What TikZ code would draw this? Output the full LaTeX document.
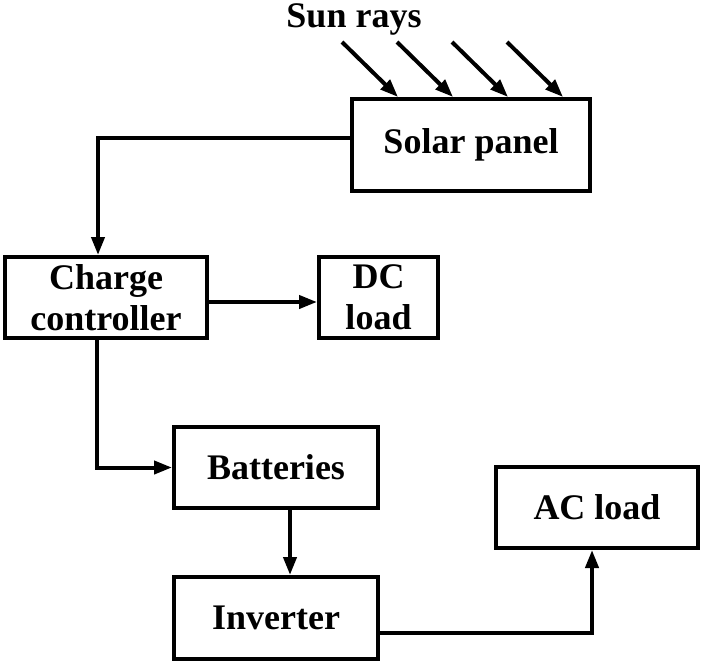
\documentclass[tikz,border=0pt]{standalone}
\usepackage{fontspec}
\setmainfont{Liberation Serif}
\usepackage{tikz}
\usetikzlibrary{arrows.meta,calc}

\begin{document}
\begin{tikzpicture}[->,>={Triangle[length=9pt,width=6.5pt]},line width=2pt,x=0.5pt,y=-0.5pt,
                    font=\bfseries\fontsize{18}{20.5}\selectfont]
  \tikzstyle{block}=[rectangle,draw=black,fill=white,align=center,inner sep=0pt,
                     minimum width=101pt,minimum height=40.5pt]
  \useasboundingbox (0,0) rectangle (704,663);

  \node (sun)                                    at (354,19)    {Sun rays};
  \node[block,minimum width=119pt,minimum height=46pt] (panel) at (471,145) {Solar panel};
  \node[block] (ctrl)                            at (106,297.5) {Charge\\controller};
  \node[block,minimum width=59.5pt] (dc)         at (378.5,297.5) {DC\\load};
  \node[block,minimum width=102pt] (bat)         at (276,467.5) {Batteries};
  \node[block,minimum width=102pt,minimum height=41pt] (inv) at (276,618) {Inverter};
  \node[block] (ac)                              at (597,507.5) {AC load};

  \foreach \i in {0,...,3} {
    \coordinate (ray\i) at (342+55*\i,42);
    \draw (ray\i) -- ($(panel.north west)+(48+55*\i,0)$);
  }

  \draw ([yshift=3.5pt]panel.west) -| ([xshift=-4pt]ctrl.north);
  \draw ([yshift=-2.25pt]ctrl.east) -- ([yshift=-2.25pt]dc.west);
  \draw ([xshift=-4.5pt]ctrl.south) |- (bat.west);
  \draw ([xshift=7pt]bat.south) -- ([xshift=7pt]inv.north);
  \draw ([yshift=-7.5pt]inv.east) -| ([xshift=-2.5pt]ac.south);
\end{tikzpicture}
\end{document}
